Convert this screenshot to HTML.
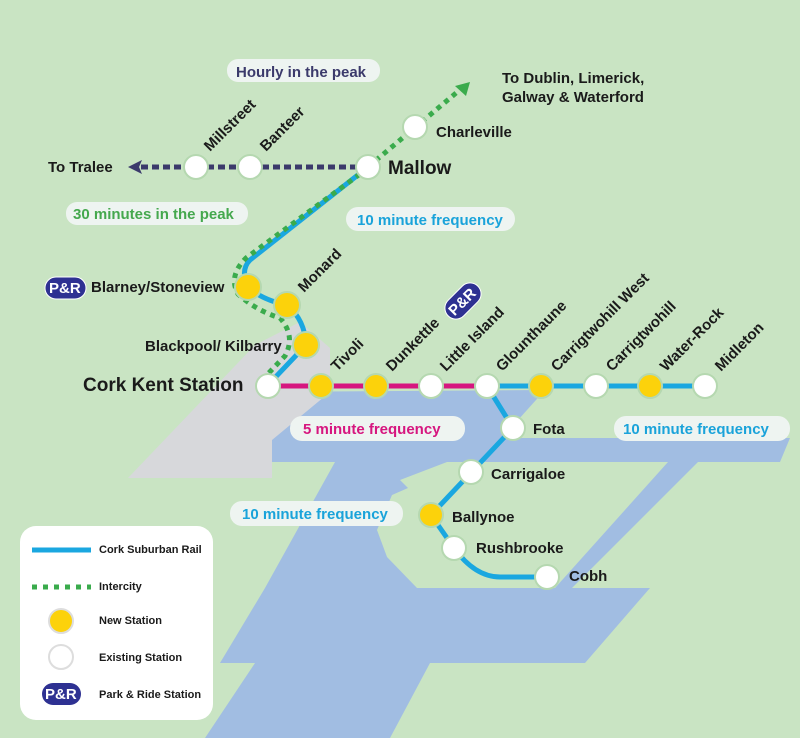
<!DOCTYPE html>
<html><head><meta charset="utf-8"><style>
html,body{margin:0;padding:0;background:#c9e4c3;}
svg{display:block;font-family:"Liberation Sans",sans-serif;font-weight:bold;}
</style></head><body>
<svg width="800" height="738" viewBox="0 0 800 738" xmlns="http://www.w3.org/2000/svg">
<rect width="800" height="738" fill="#c9e4c3"/>
<!-- water -->
<g fill="#a1bde2">
<polygon points="255,392 545,390 500,440 262,440"/>
<polygon points="262,438 790,438 780,462 262,462"/>
<polygon points="335,462 480,462 440,588 650,588 585,663 430,663 390,738 205,738 255,663 220,663 265,588"/>
<polygon points="665,460 700,460 572,588 550,588"/>
</g>
<!-- peninsula -->
<polygon points="447,462 668,462 555,588 417,588 387,557 377,530 392,495 408,488 400,480" fill="#c9e4c3"/>
<!-- gray city -->
<polygon points="255,345 300,322 330,348 330,392 272,440 272,478 128,478" fill="#d7d8db"/>
<!-- pills -->
<g fill="#eef4f1">
<rect x="227" y="59" width="153" height="23" rx="11"/>
<rect x="66" y="202" width="182" height="23" rx="11"/>
<rect x="346" y="207" width="169" height="24" rx="12"/>
<rect x="290" y="416" width="175" height="25" rx="12"/>
<rect x="614" y="416" width="176" height="25" rx="12"/>
<rect x="230" y="501" width="173" height="25" rx="12"/>
</g>
<g font-size="15">
<text x="236" y="77" fill="#3b3a6b">Hourly in the peak</text>
<text x="73" y="219" fill="#45a84e">30 minutes in the peak</text>
<text x="357" y="225" fill="#1aa3da">10 minute frequency</text>
<text x="303" y="434" fill="#d6167f">5 minute frequency</text>
<text x="623" y="434" fill="#1aa3da">10 minute frequency</text>
<text x="242" y="519" fill="#1aa3da">10 minute frequency</text>
</g>
<!-- lines -->
<g fill="none" stroke-linecap="butt">
<path d="M368,167 L250,260 Q240,270 248,287 Q262,300 287,305 Q305,320 306,345 L268,385" stroke="#1aa7e0" stroke-width="5"/>
<path d="M360,174 L246,258 Q228,276 238,294 Q255,310 280,318 Q296,336 285,356 L262,380" stroke="#3aab4c" stroke-width="5" stroke-dasharray="5,5"/>
<path d="M368,167 L462,88" stroke="#3aab4c" stroke-width="5" stroke-dasharray="5,5"/>
<path d="M368,167 L138,167" stroke="#3b3a6b" stroke-width="5" stroke-dasharray="7,4"/>
<path d="M268,386 L487,386" stroke="#d6167f" stroke-width="5"/>
<path d="M487,386 L705,386" stroke="#1aa7e0" stroke-width="5"/>
<path d="M487,386 L513,428 L431,515 L454,548 Q475,577 500,577 L547,577" stroke="#1aa7e0" stroke-width="5" stroke-linejoin="round"/>
</g>
<polygon points="128,167 142,160 139,167 142,174" fill="#3b3a6b"/>
<polygon points="470,82 455,86 466,96" fill="#3aab4c"/>
<!-- stations -->
<g stroke="#b5d8b0" stroke-width="2">
<g fill="#fff">
<circle cx="368" cy="167" r="12"/><circle cx="415" cy="127" r="12"/>
<circle cx="250" cy="167" r="12"/><circle cx="196" cy="167" r="12"/>
<circle cx="268" cy="386" r="12"/><circle cx="431" cy="386" r="12"/>
<circle cx="487" cy="386" r="12"/><circle cx="596" cy="386" r="12"/>
<circle cx="705" cy="386" r="12"/><circle cx="513" cy="428" r="12"/>
<circle cx="471" cy="472" r="12"/><circle cx="454" cy="548" r="12"/>
<circle cx="547" cy="577" r="12"/>
</g>
<g fill="#fcd20b">
<circle cx="248" cy="287" r="13"/><circle cx="287" cy="305" r="13"/>
<circle cx="306" cy="345" r="13"/><circle cx="321" cy="386" r="12"/>
<circle cx="376" cy="386" r="12"/><circle cx="541" cy="386" r="12"/>
<circle cx="650" cy="386" r="12"/><circle cx="431" cy="515" r="12"/>
</g>
</g>
<!-- labels -->
<g fill="#1a1a1a" font-size="15">
<text x="48" y="172">To Tralee</text>
<text x="388" y="174" font-size="19">Mallow</text>
<text x="436" y="137">Charleville</text>
<text x="502" y="83">To Dublin, Limerick,</text>
<text x="502" y="102">Galway &amp; Waterford</text>
<text x="91" y="292">Blarney/Stoneview</text>
<text x="145" y="351">Blackpool/ Kilbarry</text>
<text x="83" y="391" font-size="19">Cork Kent Station</text>
<text x="533" y="434">Fota</text>
<text x="491" y="479">Carrigaloe</text>
<text x="452" y="522">Ballynoe</text>
<text x="476" y="553">Rushbrooke</text>
<text x="569" y="581">Cobh</text>
<text transform="translate(210,152) rotate(-45)">Millstreet</text>
<text transform="translate(266,152) rotate(-45)">Banteer</text>
<text transform="translate(304,293) rotate(-45)">Monard</text>
<text transform="translate(337,372) rotate(-45)">Tivoli</text>
<text transform="translate(392,372) rotate(-45)">Dunkettle</text>
<text transform="translate(446,372) rotate(-45)">Little Island</text>
<text transform="translate(502,372) rotate(-45)">Glounthaune</text>
<text transform="translate(557,372) rotate(-45)">Carrigtwohill West</text>
<text transform="translate(612,372) rotate(-45)">Carrigtwohill</text>
<text transform="translate(666,372) rotate(-45)">Water-Rock</text>
<text transform="translate(721,372) rotate(-45)">Midleton</text>
</g>
<!-- P&R -->
<rect x="45" y="277" width="41" height="22" rx="11" fill="#2e3192" stroke="#fff" stroke-width="1"/>
<text x="49" y="293" fill="#fff" font-size="15">P&amp;R</text>
<g transform="translate(463,301) rotate(-45)">
<rect x="-21" y="-11" width="42" height="22" rx="11" fill="#2e3192" stroke="#fff" stroke-width="1"/>
<text x="-17" y="5" fill="#fff" font-size="15">P&amp;R</text>
</g>
<!-- legend -->
<rect x="20" y="526" width="193" height="194" rx="16" fill="#fff"/>
<line x1="32" y1="550" x2="91" y2="550" stroke="#1aa7e0" stroke-width="5"/>
<line x1="32" y1="587" x2="91" y2="587" stroke="#3aab4c" stroke-width="5" stroke-dasharray="5,6"/>
<circle cx="61" cy="621" r="12" fill="#fcd20b" stroke="#ddd" stroke-width="2"/>
<circle cx="61" cy="657" r="12" fill="#fff" stroke="#ddd" stroke-width="2"/>
<rect x="42" y="683" width="39" height="22" rx="11" fill="#2e3192"/>
<text x="45" y="699" fill="#fff" font-size="15">P&amp;R</text>
<g font-size="11" fill="#1a1a1a">
<text x="99" y="553">Cork Suburban Rail</text>
<text x="99" y="590">Intercity</text>
<text x="99" y="624">New Station</text>
<text x="99" y="661">Existing Station</text>
<text x="99" y="698">Park &amp; Ride Station</text>
</g>
</svg>
</body></html>
